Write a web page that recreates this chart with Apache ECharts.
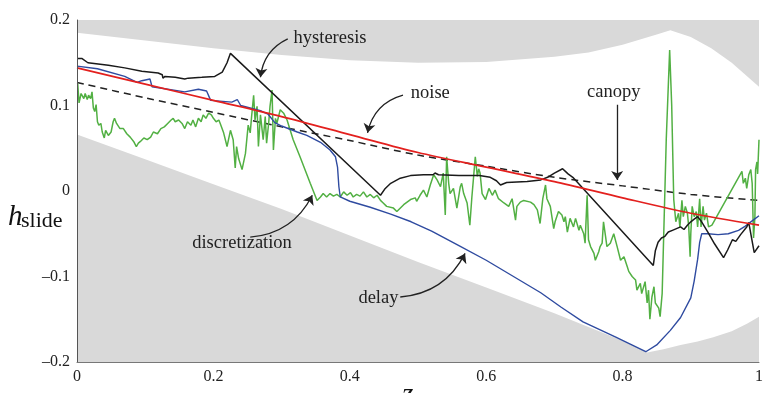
<!DOCTYPE html>
<html><head><meta charset="utf-8">
<script src="https://cdn.jsdelivr.net/npm/echarts@6/dist/echarts.min.js"></script>
<style>html,body{margin:0;padding:0;background:#fff}#c{width:773px;height:393px}</style>
</head><body><div id="c"></div>
<script>
// ---- data (x = z, y = h_slide) ----
const xTicks = [0, 0.2, 0.4, 0.6, 0.8, 1];
const yTicks = [-0.2, -0.1, 0, 0.1, 0.2];

const upperBound = [[0,0.185],[0.1,0.176],[0.2,0.167],[0.3,0.159],[0.4,0.153],[0.5,0.150],[0.6,0.151],[0.7,0.157],[0.75,0.162],[0.8,0.171],[0.85,0.183],[0.87,0.188],[0.9,0.180],[0.93,0.167],[0.96,0.150],[0.98,0.136],[1,0.122]];
const lowerBound = [[0,0.066],[0.1,0.037],[0.2,0.008],[0.3,-0.021],[0.4,-0.052],[0.5,-0.083],[0.6,-0.113],[0.7,-0.143],[0.75,-0.159],[0.8,-0.175],[0.836,-0.189],[0.86,-0.185],[0.885,-0.180],[0.91,-0.176],[0.933,-0.171],[0.96,-0.164],[0.983,-0.155],[1,-0.147]];

const canopy = [[0,0.127],[0.1,0.109],[0.2,0.092],[0.3,0.075],[0.4,0.059],[0.5,0.042],[0.6,0.029],[0.7,0.016],[0.8,0.006],[0.9,-0.004],[1,-0.011]];
const noiseFree = [[0,0.144],[0.1,0.125],[0.2,0.106],[0.3,0.087],[0.4,0.066],[0.5,0.045],[0.6,0.028],[0.7,0.011],[0.8,-0.008],[0.9,-0.026],[1,-0.040]];

const delay = [[0,0.146],[0.03,0.143],[0.07,0.134],[0.088,0.127],[0.095,0.129],[0.107,0.131],[0.110,0.122],[0.158,0.116],[0.178,0.119],[0.190,0.117],[0.196,0.106],[0.227,0.104],[0.235,0.107],[0.240,0.100],[0.269,0.094],[0.280,0.090],[0.290,0.080],[0.300,0.076],[0.323,0.069],[0.337,0.065],[0.357,0.057],[0.371,0.048],[0.379,0.040],[0.382,0.028],[0.384,0.005],[0.386,-0.007],[0.400,-0.012],[0.430,-0.019],[0.460,-0.027],[0.490,-0.036],[0.520,-0.047],[0.560,-0.064],[0.600,-0.081],[0.640,-0.100],[0.680,-0.119],[0.710,-0.136],[0.742,-0.153],[0.790,-0.171],[0.834,-0.188],[0.850,-0.180],[0.870,-0.163],[0.885,-0.148],[0.900,-0.125],[0.905,-0.105],[0.910,-0.080],[0.913,-0.060],[0.916,-0.050],[0.925,-0.050],[0.940,-0.051],[0.955,-0.050],[0.970,-0.046],[0.980,-0.041],[0.990,-0.035],[1.000,-0.029]];

const hysteresis = [[0,0.155],[0.007,0.155],[0.016,0.150],[0.046,0.147],[0.070,0.144],[0.095,0.140],[0.119,0.138],[0.125,0.136],[0.126,0.132],[0.129,0.134],[0.144,0.133],[0.158,0.131],[0.163,0.132],[0.183,0.133],[0.202,0.134],[0.213,0.139],[0.220,0.150],[0.225,0.161],[0.445,-0.005],[0.452,0.003],[0.460,0.009],[0.474,0.015],[0.489,0.018],[0.508,0.019],[0.522,0.019],[0.525,0.021],[0.530,0.019],[0.560,0.018],[0.590,0.018],[0.606,0.016],[0.615,0.012],[0.621,0.007],[0.630,0.010],[0.660,0.011],[0.680,0.013],[0.690,0.016],[0.700,0.021],[0.712,0.026],[0.720,0.020],[0.727,0.016],[0.845,-0.087],[0.848,-0.070],[0.852,-0.060],[0.857,-0.055],[0.862,-0.053],[0.867,-0.048],[0.873,-0.046],[0.879,-0.044],[0.885,-0.042],[0.890,-0.045],[0.895,-0.040],[0.900,-0.036],[0.905,-0.033],[0.910,-0.030],[0.915,-0.035],[0.925,-0.048],[0.935,-0.062],[0.948,-0.078],[0.954,-0.069],[0.961,-0.057],[0.966,-0.059],[0.973,-0.051],[0.982,-0.042],[0.985,-0.037],[0.993,-0.072],[1.000,-0.064]];

const discretization = [[0.001,0.126],[0.003,0.103],[0.006,0.114],[0.010,0.108],[0.012,0.114],[0.015,0.107],[0.017,0.112],[0.020,0.108],[0.022,0.116],[0.024,0.097],[0.026,0.093],[0.028,0.101],[0.030,0.081],[0.032,0.077],[0.035,0.079],[0.037,0.069],[0.040,0.062],[0.042,0.071],[0.046,0.065],[0.050,0.069],[0.053,0.081],[0.055,0.085],[0.058,0.079],[0.063,0.073],[0.068,0.073],[0.073,0.067],[0.078,0.063],[0.083,0.058],[0.087,0.052],[0.090,0.056],[0.093,0.058],[0.098,0.062],[0.103,0.060],[0.108,0.063],[0.112,0.069],[0.114,0.071],[0.118,0.067],[0.123,0.073],[0.128,0.075],[0.133,0.079],[0.138,0.083],[0.141,0.085],[0.144,0.081],[0.149,0.083],[0.154,0.079],[0.158,0.073],[0.162,0.081],[0.167,0.077],[0.170,0.083],[0.174,0.075],[0.178,0.085],[0.182,0.081],[0.185,0.089],[0.189,0.085],[0.193,0.091],[0.197,0.089],[0.200,0.085],[0.204,0.081],[0.208,0.083],
[0.210,0.079],[0.215,0.068],[0.220,0.052],[0.225,0.071],[0.229,0.060],[0.232,0.027],[0.234,0.052],[0.237,0.038],[0.242,0.025],[0.247,0.044],[0.251,0.077],[0.254,0.068],[0.256,0.087],[0.259,0.112],[0.261,0.083],[0.264,0.099],[0.266,0.052],[0.269,0.089],[0.273,0.060],[0.276,0.087],[0.278,0.056],[0.281,0.079],[0.283,0.099],[0.286,0.118],[0.288,0.048],[0.291,0.085],[0.293,0.079],[0.298,0.095],[0.303,0.091],[0.308,0.083],[0.317,0.060],[0.327,0.040],[0.342,0.009],[0.352,-0.011],[0.357,-0.007],[0.361,-0.003],[0.366,-0.007],[0.371,-0.003],[0.376,-0.006],[0.381,-0.004],[0.386,-0.007],[0.391,-0.001],[0.396,-0.005],[0.401,-0.002],[0.405,-0.007],[0.410,-0.004],[0.415,-0.006],[0.420,-0.001],[0.425,-0.007],[0.430,-0.004],[0.435,-0.008],[0.440,-0.005],[0.445,-0.011],[0.449,-0.014],[0.454,-0.018],[0.464,-0.020],
[0.469,-0.024],[0.479,-0.016],[0.489,-0.010],[0.496,-0.008],[0.498,-0.012],[0.503,-0.005],[0.508,0.001],[0.513,-0.007],[0.518,0.007],[0.523,0.019],[0.528,0.013],[0.533,0.005],[0.537,0.021],[0.540,-0.028],[0.542,0.040],[0.545,0.009],[0.547,-0.003],[0.552,0.003],[0.557,-0.020],[0.562,0.005],[0.564,0.009],[0.567,-0.003],[0.572,-0.014],[0.576,-0.040],[0.579,-0.007],[0.582,0.021],[0.584,0.040],[0.587,0.017],[0.589,0.026],[0.591,0.021],[0.594,-0.003],[0.599,-0.010],[0.604,0.003],[0.609,-0.005],[0.613,0.001],[0.618,-0.009],[0.626,-0.014],[0.633,-0.018],[0.638,-0.009],[0.643,-0.034],[0.645,-0.018],[0.650,-0.013],[0.655,-0.011],[0.665,-0.013],[0.670,-0.016],[0.675,-0.022],[0.679,-0.038],[0.683,-0.009],[0.687,0.007],[0.689,-0.009],[0.694,-0.018],[0.699,-0.044],
[0.701,-0.036],[0.706,-0.024],[0.711,-0.028],[0.714,-0.036],[0.716,-0.030],[0.719,-0.048],[0.723,-0.032],[0.728,-0.042],[0.731,-0.032],[0.736,-0.046],[0.738,-0.040],[0.743,-0.050],[0.745,-0.061],[0.748,-0.005],[0.750,-0.057],[0.753,-0.065],[0.758,-0.073],[0.760,-0.081],[0.765,-0.071],[0.767,-0.065],[0.770,-0.061],[0.772,-0.036],[0.775,-0.053],[0.777,-0.065],[0.782,-0.061],[0.787,-0.050],[0.792,-0.065],[0.797,-0.081],[0.802,-0.077],[0.807,-0.089],[0.809,-0.094],[0.814,-0.100],[0.819,-0.104],[0.821,-0.116],[0.826,-0.108],[0.828,-0.120],[0.833,-0.106],[0.836,-0.131],[0.838,-0.116],[0.840,-0.150],[0.843,-0.124],[0.846,-0.112],[0.848,-0.131],[0.853,-0.137],[0.855,-0.147],[0.858,-0.120],
[0.864,0.060],[0.869,0.165],[0.872,0.100],[0.875,-0.010],[0.878,-0.036],
[0.882,-0.026],[0.884,-0.042],[0.887,-0.011],[0.889,-0.030],[0.892,-0.018],[0.895,-0.026],[0.897,-0.042],[0.899,-0.077],[0.900,-0.050],[0.902,-0.018],[0.905,-0.030],[0.908,-0.024],[0.910,-0.042],[0.913,-0.009],[0.915,-0.042],[0.918,-0.018],[0.920,-0.034],[0.923,-0.026],[0.926,-0.042],[0.928,-0.044],[0.931,-0.040],
[0.975,0.023],[0.977,0.009],[0.980,0.015],[0.982,0.003],[0.985,0.019],[0.988,0.025],[0.990,0.009],[0.992,-0.055],[0.994,-0.030],[0.995,0.025],[0.997,0.034],[0.998,0.020],[1.000,0.060]];

// annotation texts and their anchor points (data units)
const labelTexts = ['hysteresis', 'noise', 'canopy', 'discretization', 'delay'];
const labelAnchors = [[0.371,0.179],[0.518,0.115],[0.787,0.116],[0.242,-0.061],[0.442,-0.125]];
const arrowFrom = [[0.309,0.178],[0.478,0.112],[0.792,0.101],[0.254,-0.054],[0.474,-0.124]];
const arrowTo   = [[0.269,0.133],[0.426,0.068],[0.792,0.013],[0.345,-0.005],[0.569,-0.073]];
const arrowBend = [-0.28, -0.3, 0, -0.28, -0.28];

// ---- chart ----
const SERIF = 'Liberation Serif, Times New Roman, serif';
const chart = echarts.init(document.getElementById('c'), null, {renderer: 'canvas'});

const fmtX = v => (Math.abs(v) < 1e-9 ? '0' : Math.abs(v - 1) < 1e-9 ? '1' : v.toFixed(1));
const fmtY = v => (Math.abs(v) < 1e-9 ? '0' : (v < 0 ? '\u2013' : '') + Math.abs(v).toFixed(1));

const lineBase = {type: 'line', symbol: 'none', showSymbol: false, silent: true, animation: false};

chart.setOption({
  animation: false,
  backgroundColor: '#fff',
  grid: {left: 77, right: 14, top: 20, bottom: 31},
  xAxis: {
    type: 'value', min: xTicks[0], max: xTicks[xTicks.length - 1], interval: 0.2, z: 10,
    axisLine: {show: true, onZero: false, lineStyle: {color: '#777', width: 1}},
    axisTick: {show: false}, splitLine: {show: false},
    axisLabel: {formatter: fmtX, fontFamily: SERIF, fontSize: 16, color: '#222', margin: 7}
  },
  yAxis: {
    type: 'value', min: yTicks[0], max: yTicks[yTicks.length - 1], interval: 0.1, z: 10,
    axisLine: {show: true, onZero: false, lineStyle: {color: '#555', width: 1}},
    axisTick: {show: false}, splitLine: {show: false},
    axisLabel: {formatter: fmtY, fontFamily: SERIF, fontSize: 16, color: '#222', margin: 7}
  },
  graphic: [
    {type: 'text', left: 8, top: 203, style: {text: 'h', font: 'italic 29px ' + SERIF, fill: '#111'}},
    {type: 'text', left: 21, top: 210, style: {text: 'slide', font: '22px ' + SERIF, fill: '#111'}},
    {type: 'text', left: 402, top: 381, style: {text: 'z', font: 'italic 29px ' + SERIF, fill: '#111'}}
  ],
  series: [
    Object.assign({}, lineBase, {name: 'upper', data: upperBound, z: 1,
      lineStyle: {width: 0, opacity: 0}, areaStyle: {color: '#d9d9d9', opacity: 1, origin: 'end'}}),
    Object.assign({}, lineBase, {name: 'lower', data: lowerBound, z: 1,
      lineStyle: {width: 0, opacity: 0}, areaStyle: {color: '#d9d9d9', opacity: 1, origin: 'start'}}),
    Object.assign({}, lineBase, {name: 'canopy', data: canopy, smooth: 0.3, z: 3,
      lineStyle: {color: '#222', width: 1.5, type: [7, 5]}}),
    Object.assign({}, lineBase, {name: 'discretization', data: discretization, z: 4,
      lineStyle: {color: '#52b043', width: 1.5}}),
    Object.assign({}, lineBase, {name: 'delay', data: delay, z: 5,
      lineStyle: {color: '#2f4ba0', width: 1.4}}),
    Object.assign({}, lineBase, {name: 'hysteresis', data: hysteresis, z: 6,
      lineStyle: {color: '#1a1a1a', width: 1.5}}),
    Object.assign({}, lineBase, {name: 'noise', data: noiseFree, smooth: 0.3, z: 7,
      lineStyle: {color: '#e3201e', width: 1.7},
      markPoint: {
        silent: true, animation: false, symbol: 'circle', symbolSize: 0,
        itemStyle: {color: 'rgba(0,0,0,0)'},
        label: {show: true, position: 'inside', formatter: p => p.name,
          fontFamily: SERIF, fontSize: 18.5, color: '#222'},
        data: labelTexts.map((t, i) => ({name: t, coord: labelAnchors[i]}))
      }
    }),
    {
      type: 'lines', name: 'arrows', coordinateSystem: 'cartesian2d', silent: true, animation: false, z: 8,
      symbol: ['none', 'arrow'], symbolSize: 9,
      lineStyle: {color: '#222', width: 1.3, opacity: 1},
      data: arrowFrom.map((p, i) => ({coords: [p, arrowTo[i]], lineStyle: {curveness: arrowBend[i]}}))
    }
  ]
});
</script>
</body></html>
